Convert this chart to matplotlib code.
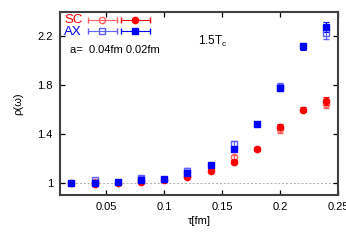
import numpy as np
import matplotlib.pyplot as plt
from matplotlib.legend_handler import HandlerErrorbar

# data
tau_02 = [0.02, 0.04, 0.06, 0.08, 0.10, 0.12, 0.14, 0.16, 0.18, 0.20, 0.22, 0.24]
tau_04 = [0.04, 0.08, 0.12, 0.16, 0.20, 0.24]

sc_02 = [1.00, 0.99, 1.00, 1.01, 1.02, 1.05, 1.10, 1.17, 1.28, 1.46, 1.60, 1.67]
sc_02_err = [0.005, 0.01, 0.01, 0.01, 0.01, 0.01, 0.01, 0.015, 0.015, 0.02, 0.02, 0.03]
sc_04 = [1.01, 1.02, 1.06, 1.21, 1.44, 1.65]
sc_04_err = [0.01, 0.01, 0.015, 0.02, 0.03, 0.035]

ax_02 = [1.00, 1.00, 1.01, 1.02, 1.035, 1.08, 1.15, 1.28, 1.48, 1.78, 2.12, 2.28]
ax_02_err = [0.005, 0.01, 0.01, 0.01, 0.01, 0.01, 0.01, 0.015, 0.015, 0.025, 0.03, 0.04]
ax_04 = [1.02, 1.04, 1.10, 1.32, 1.79, 2.23]
ax_04_err = [0.01, 0.015, 0.02, 0.025, 0.03, 0.05]

red = '#ff0000'
blue = '#0000ff'
red_l = '#ff6060'
blue_l = '#6060ff'
frame = '#404040'

plt.rcParams['font.family'] = 'Liberation Sans'
fig = plt.figure(figsize=(3.46, 2.42), dpi=100)
ax = fig.add_axes([0.173, 0.194, 0.804, 0.756])

ax.axhline(1.0, color='#b0b0b0', lw=0.7, ls=(0, (2, 2)), zorder=0)

kw = dict(ls='none', capsize=2, elinewidth=0.8, capthick=0.8, markersize=4.5)
ax.errorbar(tau_04, sc_04, yerr=sc_04_err, fmt='o', color=red_l, mfc='none', mew=1.0, **kw)
ax.errorbar(tau_02, sc_02, yerr=sc_02_err, fmt='o', color=red, **kw)
ax.errorbar(tau_04, ax_04, yerr=ax_04_err, fmt='s', color=blue_l, mfc='none', mew=1.0, **kw)
ax.errorbar(tau_02, ax_02, yerr=ax_02_err, fmt='s', color=blue, **kw)

# legend samples (gnuplot style: horizontal bar with caps)
h = []
for c, m, f in [(red_l, 'o', 'none'), (blue_l, 's', 'none'), (red, 'o', None), (blue, 's', None)]:
    e = ax.errorbar([np.nan], [np.nan], xerr=[1], fmt=m, color=c, ls='none',
                    capsize=2, elinewidth=0.8, capthick=0.8, markersize=4.5,
                    mfc=(f if f else c), mew=1.0)
    h.append(e)
hl = 2.8
leg = ax.legend(h, ['', '', '', ''], ncol=2, loc='upper left',
                bbox_to_anchor=(0.06, 1.035), frameon=False, handlelength=hl,
                handletextpad=0.0, columnspacing=0.2, labelspacing=0.1,
                fontsize=8, numpoints=1,
                handler_map={type(h[0]): HandlerErrorbar(xerr_size=hl / 2 - 0.1)})

ax.text(0.015, 0.955, 'SC', color=red, fontsize=9.5, transform=ax.transAxes, va='center')
ax.text(0.015, 0.893, 'AX', color=blue, fontsize=9.5, transform=ax.transAxes, va='center')
ax.text(0.035, 0.795, 'a=  0.04fm 0.02fm', fontsize=8, transform=ax.transAxes, va='center')
ax.text(0.495, 0.84, r'1.5T$_\mathregular{c}$', fontsize=8.5, transform=ax.transAxes, va='center')

ax.set_xlim(0.01, 0.25)
ax.set_ylim(0.9, 2.4)
ax.set_xticks([0.05, 0.1, 0.15, 0.2, 0.25])
ax.set_xticklabels(['0.05', '0.1', '0.15', '0.2', '0.25'])
ax.set_yticks([1.0, 1.4, 1.8, 2.2])
ax.set_yticklabels(['1', '1.4', '1.8', '2.2'])
ax.tick_params(direction='in', top=True, right=True, length=3.5, width=0.9,
               labelsize=8, color='black', pad=5)
for s in ax.spines.values():
    s.set_color(frame)
    s.set_linewidth(1.5)

ax.set_xlabel('τ[fm]', fontsize=8, labelpad=3)
ax.set_ylabel('ρ(ω)', fontsize=8, labelpad=10)

fig.savefig('out.png', dpi=100)
